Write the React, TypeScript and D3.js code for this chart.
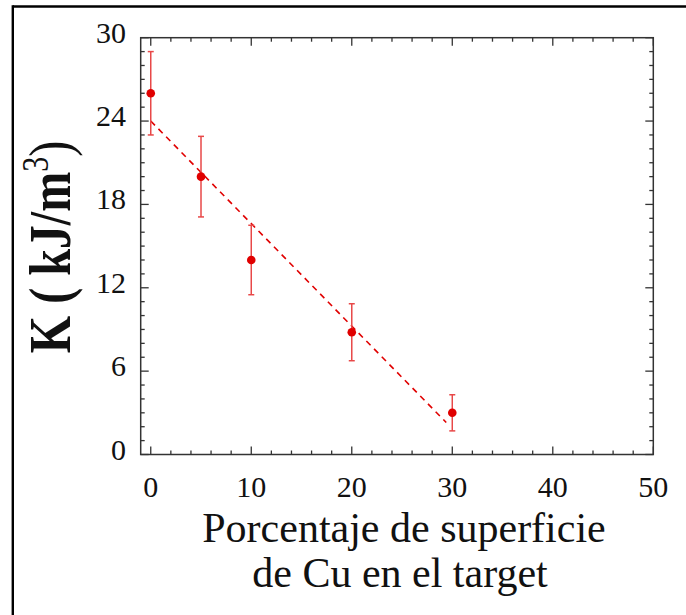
import React, { useEffect, useRef } from "react";
import * as d3 from "d3";

const xValues = [0, 5, 10, 20, 30];
const kValues = [26, 20, 14, 8.8, 3];
const kErrors = [3, 2.9, 2.5, 2.05, 1.3];
const fitX = [0, 29.4];
const fitIntercept = 24;
const fitSlope = -0.738;
const xTicks = [0, 10, 20, 30, 40, 50];
const yTicks = [0, 6, 12, 18, 24, 30];

const W = 686;
const H = 615;

export default function App() {
  const ref = useRef<SVGSVGElement | null>(null);

  useEffect(() => {
    const svg = d3.select(ref.current);
    svg.selectAll("*").remove();

    const x = d3.scaleLinear().domain([-1, 50]).range([140.7, 653.3]);
    const y = d3.scaleLinear().domain([0, 30]).range([454.5, 37.7]);
    const [x0, x1] = x.range();
    const [y0, y1] = y.range();
    const frameColor = "#333";
    const serif = "'Liberation Serif', 'Times New Roman', serif";

    // outer border (top and left only)
    svg.append("line").attr("x1", 12.8).attr("x2", W).attr("y1", 6.5).attr("y2", 6.5)
      .attr("stroke", "#000").attr("stroke-width", 2.6);
    svg.append("line").attr("x1", 12.8).attr("x2", 12.8).attr("y1", 5.2).attr("y2", H)
      .attr("stroke", "#000").attr("stroke-width", 2.4);

    // frame
    svg.append("rect").attr("x", x0).attr("y", y1).attr("width", x1 - x0).attr("height", y0 - y1)
      .attr("fill", "none").attr("stroke", frameColor).attr("stroke-width", 1.5);

    const ticks = svg.append("g").attr("stroke", frameColor).attr("stroke-width", 1.3);
    d3.range(0, 51, 2).forEach((v) => {
      const len = v % 10 === 0 ? 8 : 4;
      ticks.append("line").attr("x1", x(v)).attr("x2", x(v)).attr("y1", y0).attr("y2", y0 - len);
      ticks.append("line").attr("x1", x(v)).attr("x2", x(v)).attr("y1", y1).attr("y2", y1 + len);
    });
    d3.range(0, 31, 1).forEach((v) => {
      const len = v % 6 === 0 ? 8 : 4;
      ticks.append("line").attr("x1", x0).attr("x2", x0 + len).attr("y1", y(v)).attr("y2", y(v));
      ticks.append("line").attr("x1", x1).attr("x2", x1 - len).attr("y1", y(v)).attr("y2", y(v));
    });

    // tick labels
    svg.append("g").selectAll("text").data(xTicks).join("text")
      .attr("x", (d) => x(d)).attr("y", 497).attr("text-anchor", "middle")
      .attr("font-family", serif).attr("font-size", 30).attr("fill", "#111")
      .text((d) => d);
    svg.append("g").selectAll("text").data(yTicks).join("text")
      .attr("x", 126).attr("y", (d) => y(d) + 5).attr("text-anchor", "end")
      .attr("font-family", serif).attr("font-size", 30).attr("fill", "#111")
      .text((d) => d);

    // axis titles
    const xt = svg.append("text").attr("text-anchor", "middle").attr("font-family", serif)
      .attr("font-size", 42).attr("fill", "#111");
    xt.append("tspan").attr("x", 404).attr("y", 542).text("Porcentaje de superficie");
    xt.append("tspan").attr("x", 400).attr("y", 587).text("de Cu en el target");

    const yt = svg.append("text").attr("text-anchor", "middle").attr("font-family", serif)
      .attr("font-weight", "bold").attr("font-size", 48).attr("fill", "#111")
      .attr("transform", "translate(70,247) rotate(-90) scale(1,1.25)");
    yt.append("tspan").text("K ( kJ/m");
    yt.append("tspan").attr("font-size", 30).attr("font-weight", "normal").attr("dy", -18).text("3");
    yt.append("tspan").attr("dy", 18).attr("font-weight", "normal").text(")");

    // fit line
    const line = d3.line<number>().x((d) => x(d)).y((d) => y(fitIntercept + fitSlope * d));
    svg.append("path").attr("d", line(fitX)).attr("fill", "none")
      .attr("stroke", "#e00000").attr("stroke-width", 1.6).attr("stroke-dasharray", "6,5");

    // error bars
    const eb = svg.append("g").attr("stroke", "#e84848").attr("stroke-width", 1.5);
    xValues.forEach((xv, i) => {
      const top = y(kValues[i] + kErrors[i]);
      const bot = y(kValues[i] - kErrors[i]);
      eb.append("line").attr("x1", x(xv)).attr("x2", x(xv)).attr("y1", top).attr("y2", bot);
      eb.append("line").attr("x1", x(xv) - 3).attr("x2", x(xv) + 3).attr("y1", top).attr("y2", top);
      eb.append("line").attr("x1", x(xv) - 3).attr("x2", x(xv) + 3).attr("y1", bot).attr("y2", bot);
    });

    // markers
    svg.append("g").selectAll("circle").data(xValues).join("circle")
      .attr("cx", (d) => x(d)).attr("cy", (_d, i) => y(kValues[i])).attr("r", 4.3)
      .attr("fill", "#e00000");
  }, []);

  return (
    <svg
      ref={ref}
      width={W}
      height={H}
      style={{ position: "absolute", left: 0, top: 0, background: "#fff" }}
    />
  );
}
